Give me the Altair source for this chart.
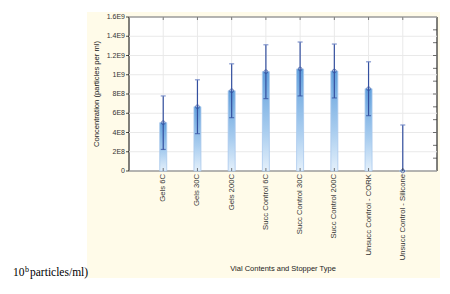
import altair as alt
import pandas as pd

categories = ["Gels 6C", "Gels 30C", "Gels 200C", "Succ Control 6C", "Succ Control 30C",
              "Succ Control 200C", "Unsucc Control - CORK", "Unsucc Control - Silicone"]
means = [5.02e8, 6.68e8, 8.34e8, 10.32e8, 10.6e8, 10.39e8, 8.55e8, 0.0]
errors = [2.78e8, 2.80e8, 2.80e8, 2.80e8, 2.80e8, 2.80e8, 2.80e8, 4.78e8]
y_ticks = [0, 2e8, 4e8, 6e8, 8e8, 10e8, 12e8, 14e8, 16e8]
y_tick_labels = ["0", "2E8", "4E8", "6E8", "8E8", "1E9", "1.2E9", "1.4E9", "1.6E9"]
right_ticks = [k * 1.6e9 / 12 for k in range(1, 12)]
x_title = "Vial Contents and Stopper Type"
y_title = "Concentration (particles per ml)"

W, H = 308, 154
FONT = "Liberation Sans"
DARK = "#34509f"

df = pd.DataFrame({
    "cat": categories,
    "mean": means,
    "lo": [m - e for m, e in zip(means, errors)],
    "hi": [m + e for m, e in zip(means, errors)],
})
ydf = pd.DataFrame({"v": y_ticks, "lab": y_tick_labels})
rdf = pd.DataFrame({"v": right_ticks})

xscale = alt.Scale(type="point", padding=1, domain=categories)
yscale = alt.Scale(domain=[0, 1.6e9], nice=False, zero=True)


def xc():
    return alt.X("cat:N", sort=categories, scale=xscale, axis=None)


def yc(f):
    return alt.Y(f, scale=yscale, axis=None)


one = alt.Data(values=[{}])

cream = alt.Chart(one).mark_rect(color="#fffbe9").encode(
    x=alt.value(-42), x2=alt.value(314), y=alt.value(-5), y2=alt.value(261))
white = alt.Chart(one).mark_rect(fill="white", stroke="black", strokeWidth=1).encode(
    x=alt.value(0), x2=alt.value(W), y=alt.value(0), y2=alt.value(H))

hgrid = alt.Chart(ydf).mark_rule(color="#e9e9e9", strokeWidth=1).encode(
    y=yc("v:Q"), x=alt.value(0), x2=alt.value(W))
vgrid = alt.Chart(df).mark_rule(color="#e9e9e9", strokeWidth=1).encode(
    x=xc(), y=alt.value(0), y2=alt.value(H))

grad = alt.Gradient(gradient="linear", x1=0, x2=0, y1=0, y2=1,
                    stops=[alt.GradientStop(color="#62a0dc", offset=0),
                           alt.GradientStop(color="#a9cdef", offset=0.6),
                           alt.GradientStop(color="#e4f0fb", offset=1)])
bars = alt.Chart(df).mark_bar(size=7, color=grad, stroke="#a8c8ec", strokeWidth=0.8).encode(
    x=xc(), y=yc("mean:Q"))

err = alt.Chart(df).mark_rule(color=DARK, strokeWidth=1.2, clip=True).encode(
    x=xc(), y=yc("lo:Q"), y2="hi:Q")
cap_hi = alt.Chart(df).mark_tick(color="#7088c6", orient="horizontal", size=5, thickness=1.5, clip=True).encode(
    x=xc(), y=yc("hi:Q"))
cap_lo = alt.Chart(df).mark_tick(color=DARK, orient="horizontal", size=5, thickness=1.2, clip=True).encode(
    x=xc(), y=yc("lo:Q"))
pts = alt.Chart(df).mark_point(shape="circle", filled=False, color=DARK, size=14, strokeWidth=1).encode(
    x=xc(), y=yc("mean:Q"))

# frame ticks
top_ticks = alt.Chart(df).mark_tick(color="#444", orient="vertical", size=3, thickness=1).encode(
    x=xc(), y=alt.value(1.5))
bot_ticks = alt.Chart(df).mark_tick(color="#444", orient="vertical", size=3, thickness=1).encode(
    x=xc(), y=alt.value(H - 1.5))
right = alt.Chart(rdf).mark_tick(color="#333", orient="horizontal", size=4, thickness=1).encode(
    y=yc("v:Q"), x=alt.value(W - 2))
left_ticks = alt.Chart(ydf).mark_tick(color="black", orient="horizontal", size=3, thickness=1).encode(
    y=yc("v:Q"), x=alt.value(-1.5))

# axis labels and titles
xlabels = alt.Chart(df).mark_text(font=FONT, fontSize=7.7, color="#333", angle=270,
                                  align="right", baseline="middle").encode(
    x=xc(), y=alt.value(H + 3), text="cat:N")
ylabels = alt.Chart(ydf).mark_text(font=FONT, fontSize=7, color="#333",
                                   align="right", baseline="middle").encode(
    y=yc("v:Q"), x=alt.value(-4), text="lab:N")
xtitle = alt.Chart(one).mark_text(text=x_title, font=FONT, fontSize=7.5, color="#222",
                                  align="center", baseline="middle").encode(
    x=alt.value(W / 2), y=alt.value(252))
ytitle = alt.Chart(one).mark_text(text=y_title, font=FONT, fontSize=7.6, color="#222",
                                  angle=270, align="center", baseline="middle").encode(
    x=alt.value(-32), y=alt.value(H / 2))

t10 = alt.Chart(one).mark_text(text="10", font="Liberation Serif", fontSize=11.5,
                               align="left", baseline="alphabetic", color="black").encode(
    x=alt.value(-116), y=alt.value(259))
tb = alt.Chart(one).mark_text(text="b", font="Liberation Serif", fontSize=8,
                              align="left", baseline="alphabetic", color="black").encode(
    x=alt.value(-104), y=alt.value(255))
tp = alt.Chart(one).mark_text(text="particles/ml)", font="Liberation Serif", fontSize=11.5,
                              align="left", baseline="alphabetic", color="black").encode(
    x=alt.value(-99), y=alt.value(259))

chart = alt.layer(cream, white, hgrid, vgrid, bars, err, cap_hi, cap_lo, pts,
                  top_ticks, bot_ticks, right, left_ticks, xlabels, ylabels,
                  xtitle, ytitle, t10, tb, tp).properties(
    width=W, height=H,
    autosize=alt.AutoSizeParams(type="none"),
    padding={"left": 121, "top": 9, "right": 3, "bottom": 109},
).configure_view(stroke=None).configure(background="white")

chart.save("out.html", embed_options={"renderer": "svg", "actions": False})
